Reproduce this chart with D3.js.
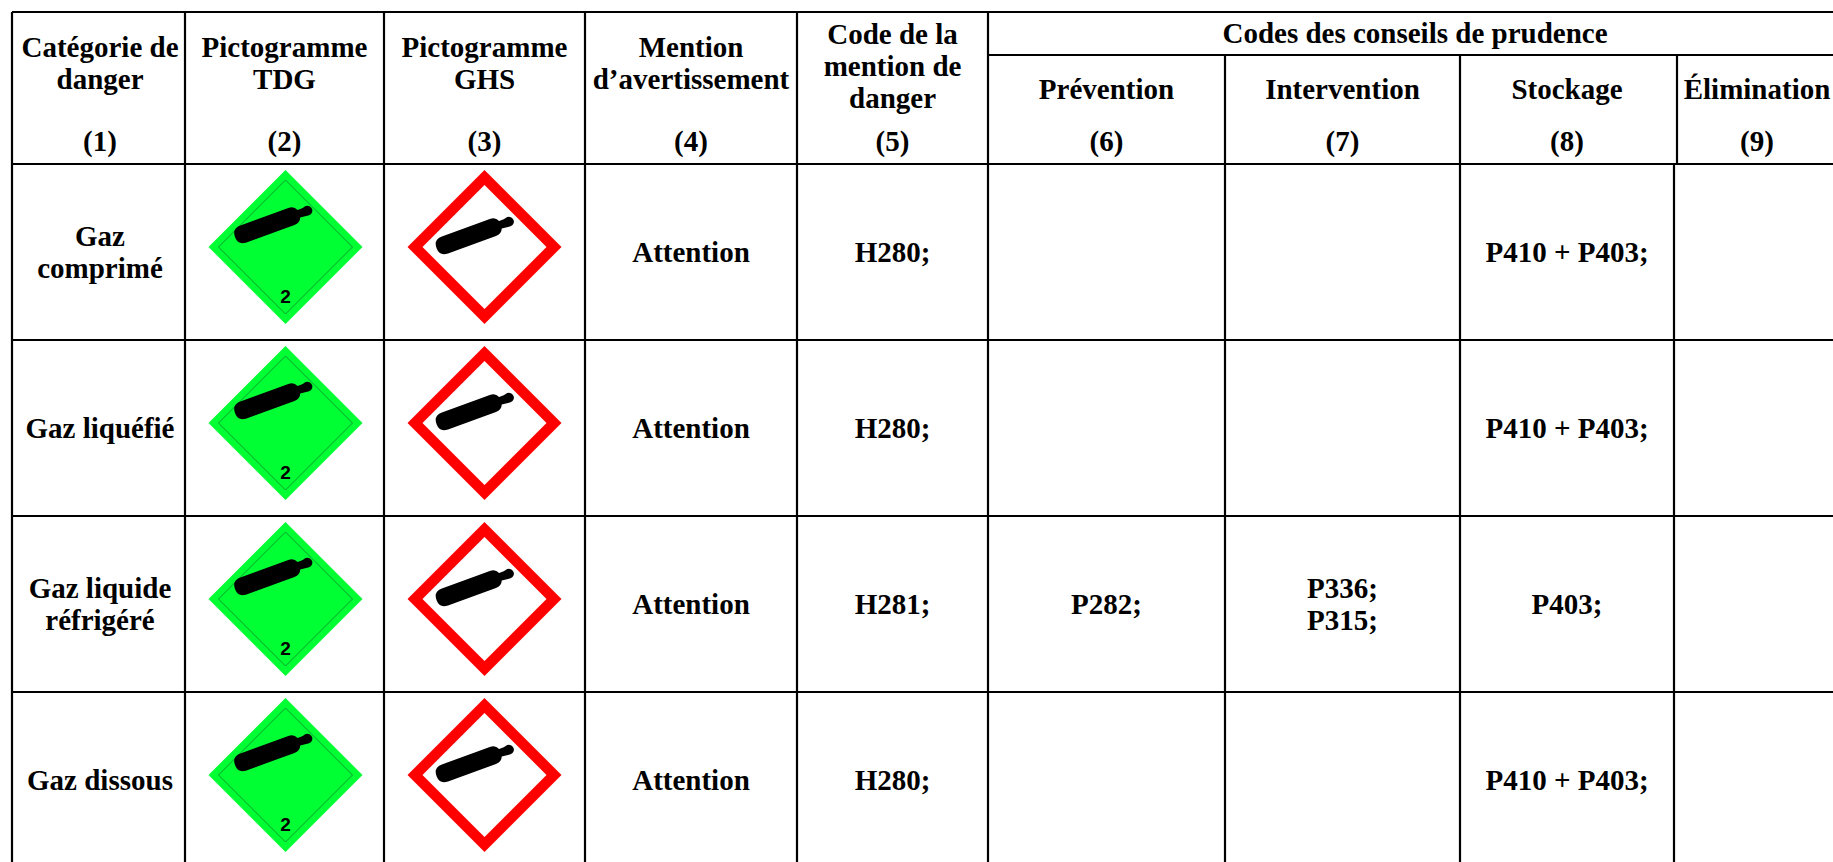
<!DOCTYPE html>
<html>
<head>
<meta charset="utf-8">
<script src="https://cdn.jsdelivr.net/npm/d3@7"></script>
<style>
  html, body { margin: 0; padding: 0; background: #fff; overflow: hidden; }
  text { font-family: "Liberation Serif", serif; font-weight: bold; fill: #000; text-anchor: middle; }
</style>
</head>
<body>
<svg id="table"></svg>
<script>
'use strict';

var categories = [["Gaz", "comprimé"], ["Gaz liquéfié"], ["Gaz liquide", "réfrigéré"], ["Gaz dissous"]];
var signalWords = ["Attention", "Attention", "Attention", "Attention"];
var hazardCodes = ["H280;", "H280;", "H281;", "H280;"];
var prevention = ["", "", "P282;", ""];
var intervention = ["", "", "P336;\nP315;", ""];
var storage = ["P410 + P403;", "P410 + P403;", "P403;", "P410 + P403;"];
var columnIds = ["c1", "c2", "c3", "c4", "c5", "c6", "c7", "c8", "c9"];
var columnNumbers = ["(1)", "(2)", "(3)", "(4)", "(5)", "(6)", "(7)", "(8)", "(9)"];
var headerTitles = [
  ["Catégorie de", "danger"],
  ["Pictogramme", "TDG"],
  ["Pictogramme", "GHS"],
  ["Mention", "d’avertissement"],
  ["Code de la", "mention de", "danger"],
  ["Prévention"],
  ["Intervention"],
  ["Stockage"],
  ["Élimination"]
];
var groupTitle = "Codes des conseils de prudence";

var width = 1833,
    height = 862;

// layout of the grid, left edge of every column then the right end of the page
var columnEdges = [12, 185, 384, 585, 797, 988, 1225, 1460, 1674, 1900];
var headerTop = 12, subHeaderY = 55, headerBottom = 164, rowHeight = 176;
var fontSize = 29, lineGap = 32;

var svg = d3.select("svg#table").attr("width", width).attr("height", height);

var x = d3.scaleOrdinal().domain(columnIds).range(columnEdges);
var centerX = function(id) {
  var i = columnIds.indexOf(id);
  return (columnEdges[i] + columnEdges[i + 1]) / 2;
};
var y = d3.scaleBand()
    .domain(d3.range(categories.length))
    .range([headerBottom, headerBottom + rowHeight * categories.length]);

// page is cut on the right, last column is centred on what is visible
var lastCenter = 1757;

function colCenter(id) {
  if (id === "c9") return lastCenter;
  if (id === "c1") return centerX(id) + 1.5;
  return centerX(id);
}

function multiline(g, lines, cx, cy) {
  // cy is the vertical middle of the block
  var top = cy - (lines.length - 1) * lineGap / 2;
  lines.forEach(function(l, i) {
    g.append("text")
      .attr("x", cx)
      .attr("y", top + i * lineGap + fontSize * 0.3)
      .attr("font-size", fontSize)
      .text(l);
  });
}

/////// grid lines
var grid = svg.append("g").attr("stroke", "#000").attr("stroke-width", 2.2);

grid.append("line").attr("x1", columnEdges[0]).attr("x2", width).attr("y1", headerTop).attr("y2", headerTop);
grid.append("line").attr("x1", x("c6")).attr("x2", width).attr("y1", subHeaderY).attr("y2", subHeaderY);
grid.append("line").attr("x1", columnEdges[0]).attr("x2", width).attr("y1", headerBottom).attr("y2", headerBottom);

grid.selectAll(".row-line")
    .data(y.domain())
  .enter().append("line")
    .attr("class", "row-line")
    .attr("x1", columnEdges[0]).attr("x2", width)
    .attr("y1", function(d) { return y(d) + y.bandwidth(); })
    .attr("y2", function(d) { return y(d) + y.bandwidth(); });

grid.selectAll(".col-line")
    .data(columnIds)
  .enter().append("line")
    .attr("class", "col-line")
    .attr("x1", function(d) { return x(d); })
    .attr("x2", function(d) { return x(d); })
    .attr("y1", function(d) {
      if (d === "c9") return headerBottom;
      return columnIds.indexOf(d) > 5 ? subHeaderY : headerTop;
    })
    .attr("y2", height);

// the last header divider does not line up with the one below it
grid.append("line").attr("x1", 1677).attr("x2", 1677).attr("y1", subHeaderY).attr("y2", headerBottom);

/////// header
var header = svg.append("g");
multiline(header, [groupTitle], 1415, 34);

headerTitles.forEach(function(lines, i) {
  var id = columnIds[i];
  var cy = lines.length === 3 ? 67 : (lines.length === 2 ? 64 : 90);
  multiline(header, lines, colCenter(id), cy);
  multiline(header, [columnNumbers[i]], colCenter(id), 142);
});

/////// body text
var body = svg.append("g");

function fillColumn(id, values) {
  values.forEach(function(v, i) {
    var lines = Array.isArray(v) ? v : v.split("\n");
    if (v === "") return;
    multiline(body, lines, colCenter(id), y(i) + y.bandwidth() / 2 + 1);
  });
}

fillColumn("c1", categories);
fillColumn("c4", signalWords);
fillColumn("c5", hazardCodes);
fillColumn("c6", prevention);
fillColumn("c7", intervention);
fillColumn("c8", storage);

/////// pictograms
var cylinder = d3.path();
cylinder.moveTo(9, -9);
cylinder.lineTo(60, -9);
cylinder.quadraticCurveTo(66, -9, 68, -4);
cylinder.lineTo(73, -4);
cylinder.arc(77, 0, 5, -Math.PI / 2, Math.PI / 2);
cylinder.lineTo(68, 4);
cylinder.quadraticCurveTo(66, 9, 60, 9);
cylinder.lineTo(9, 9);
cylinder.quadraticCurveTo(0, 9, 0, 0);
cylinder.quadraticCurveTo(0, -9, 9, -9);
cylinder.closePath();

function diamond(r) { return "M0," + (-r) + "L" + r + ",0L0," + r + "L" + (-r) + ",0Z"; }

var tdg = svg.selectAll(".tdg")
    .data(y.domain())
  .enter().append("g")
    .attr("class", "tdg")
    .attr("transform", function(d) { return "translate(" + 285.5 + "," + (y(d) + 83) + ")"; });

tdg.append("path").attr("d", diamond(77)).attr("fill", "#00ff33");
tdg.append("path").attr("d", diamond(67)).attr("fill", "none").attr("stroke", "#0c9a2e").attr("stroke-width", 1);
tdg.append("path").attr("d", cylinder.toString())
    .attr("transform", "translate(-50.5,-10) rotate(-20)");
tdg.append("text")
    .attr("y", 56)
    .attr("font-size", 19)
    .style("font-family", "'Liberation Sans', sans-serif")
    .text("2");

var ghs = svg.selectAll(".ghs")
    .data(y.domain())
  .enter().append("g")
    .attr("class", "ghs")
    .attr("transform", function(d) { return "translate(" + 484.5 + "," + (y(d) + 83) + ")"; });

ghs.append("path").attr("d", diamond(77)).attr("fill", "#ff0000");
ghs.append("path").attr("d", diamond(62)).attr("fill", "#fff");
ghs.append("path").attr("d", cylinder.toString())
    .attr("transform", "translate(-48,1) rotate(-20)");
</script>
</body>
</html>
